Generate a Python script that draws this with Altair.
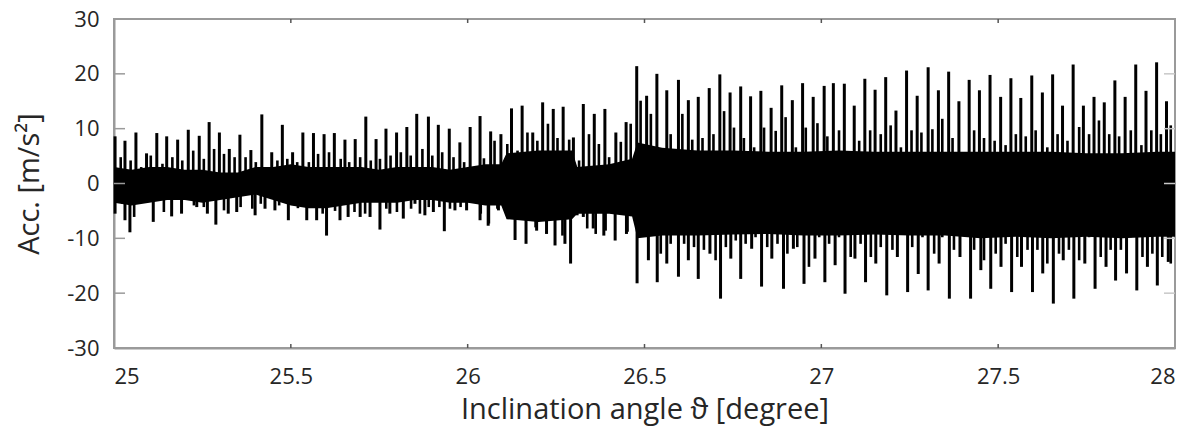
import altair as alt
import pandas as pd

# major positive spikes (angle [deg], acceleration [m/s^2])
pos_angle = [25.003, 25.031, 25.062, 25.092, 25.121, 25.149, 25.180, 25.210, 25.241, 25.269,
             25.298, 25.326, 25.356, 25.387, 25.418, 25.446, 25.476, 25.505, 25.534, 25.564,
             25.594, 25.623, 25.653, 25.682, 25.712, 25.741, 25.769, 25.799,
             25.828, 25.856, 25.889, 25.917, 25.948, 25.978, 26.007, 26.035, 26.065, 26.094,
             26.124, 26.154, 26.184, 26.212, 26.242, 26.270, 26.299, 26.327, 26.358, 26.388,
             26.419, 26.448, 26.478, 26.506, 26.535, 26.563, 26.596, 26.624, 26.652,
             26.683, 26.713, 26.742, 26.772, 26.800, 26.829, 26.858, 26.888, 26.918, 26.947,
             26.977, 27.008, 27.034, 27.065, 27.093, 27.123, 27.152, 27.182, 27.211, 27.241,
             27.271, 27.302, 27.331, 27.360, 27.389, 27.418, 27.447, 27.477, 27.507,
             27.536, 27.564, 27.595, 27.625, 27.654, 27.682, 27.712, 27.741, 27.771, 27.800,
             27.830, 27.859, 27.889, 27.918, 27.948, 27.976]
pos_acc = [8.6, 7.8, 9.3, 5.5, 9.2, 8.6, 8.0, 9.8, 8.7, 11.2,
           9.3, 6.3, 8.9, 6.1, 12.6, 5.7, 10.7, 5.7, 9.3, 9.2,
           9.0, 9.2, 8.0, 8.1, 12.2, 8.1, 10.0, 9.3,
           10.3, 12.7, 12.2, 10.7, 10.0, 7.5, 10.3, 12.3, 9.5, 9.0,
           13.7, 14.2, 9.3, 14.8, 13.6, 14.0, 8.4, 14.5, 12.7, 13.6,
           9.3, 11.2, 21.4, 16.0, 20.0, 17.0, 18.9, 15.2, 15.8,
           17.4, 19.9, 16.6, 17.7, 15.9, 16.9, 13.8, 17.9, 15.2, 18.3,
           15.8, 17.8, 18.3, 18.2, 14.2, 19.1, 17.1, 19.4, 13.3, 20.6,
           16.0, 21.2, 17.0, 20.4, 15.0, 18.9, 17.0, 19.8, 15.8,
           19.2, 15.6, 19.7, 16.6, 19.9, 14.2, 21.7, 14.2, 15.8, 14.8,
           18.8, 15.8, 21.7, 16.9, 22.1, 15.0]

# major negative spikes
neg_angle = [25.003, 25.031, 25.045, 25.111, 25.163, 25.191, 25.234, 25.264, 25.288, 25.323,
             25.347, 25.399, 25.427, 25.455, 25.493, 25.545, 25.573, 25.601, 25.639, 25.662,
             25.696, 25.724, 25.752, 25.780,
             25.818, 25.851, 25.879, 25.903, 25.934, 25.964, 25.997, 26.035, 26.058, 26.087,
             26.134, 26.165, 26.195, 26.223, 26.247, 26.275, 26.291, 26.327, 26.355, 26.385,
             26.417, 26.449, 26.479, 26.511, 26.536, 26.563, 26.596, 26.624, 26.652,
             26.685, 26.715, 26.744, 26.772, 26.803, 26.831, 26.860, 26.893, 26.921, 26.951,
             26.982, 27.010, 27.039, 27.067, 27.095, 27.125, 27.154, 27.185, 27.215, 27.244,
             27.274, 27.302, 27.333, 27.362,
             27.392, 27.422, 27.451, 27.479, 27.508, 27.538, 27.566, 27.597, 27.626, 27.656,
             27.684, 27.714, 27.745, 27.774, 27.805, 27.832, 27.863, 27.892, 27.922, 27.950,
             27.981]
neg_acc = [-5.5, -6.7, -8.9, -7.0, -6.0, -5.5, -4.3, -5.5, -7.5, -5.5,
           -5.2, -5.8, -4.6, -4.9, -6.7, -6.7, -6.7, -9.5, -6.7, -6.1,
           -6.1, -6.1, -8.4, -5.5,
           -6.4, -3.7, -5.8, -5.2, -8.7, -4.9, -4.9, -6.7, -7.7, -4.9,
           -10.3, -11.0, -8.6, -9.2, -11.3, -11.0, -14.6, -6.1, -8.2, -9.5,
           -10.4, -9.2, -18.2, -14.0, -18.0, -14.6, -17.0, -14.0, -17.4,
           -12.8, -21.0, -13.7, -17.4, -11.9, -18.8, -13.7, -19.2, -11.9, -18.3,
           -13.7, -18.0, -14.9, -20.1, -13.7, -18.0, -14.6, -20.4, -13.4, -19.8,
           -16.5, -19.5, -14.6, -21.0,
           -13.4, -21.0, -15.8, -19.2, -15.2, -19.8, -15.2, -19.8, -16.4, -21.9,
           -14.0, -21.0, -14.6, -19.2, -15.2, -17.7, -16.4, -19.5, -15.2, -18.6,
           -14.3]

# secondary (smaller) positive spikes
minor_pos_angle = [25.019, 25.047, 25.077, 25.104, 25.137, 25.165, 25.193, 25.224, 25.254, 25.283,
                   25.311, 25.341, 25.372, 25.401, 25.429, 25.462, 25.490,
                   25.518, 25.551, 25.577, 25.608, 25.641, 25.665, 25.696, 25.726, 25.752, 25.782,
                   25.811, 25.839, 25.872, 25.900, 25.928, 25.960, 25.990,
                   26.046, 26.076, 26.112, 26.141, 26.169, 26.197, 26.227, 26.254, 26.287, 26.315,
                   26.343, 26.371, 26.400, 26.433, 26.461, 26.489, 26.518,
                   26.574, 26.607, 26.635, 26.664, 26.695, 26.725, 26.753, 26.781, 26.810, 26.838,
                   26.871, 26.899, 26.928, 26.956, 26.989, 27.017,
                   27.050, 27.107, 27.138, 27.168, 27.196, 27.225, 27.255, 27.283, 27.314, 27.342,
                   27.371, 27.404, 27.432, 27.460, 27.490, 27.521,
                   27.550, 27.578, 27.606, 27.639, 27.668, 27.696, 27.729, 27.757, 27.785, 27.814,
                   27.842, 27.875, 27.905, 27.933, 27.960, 27.988]
minor_pos_acc = [4.8, 4.2, 3.0, 5.1, 3.6, 4.8, 4.2, 6.0, 4.5, 6.3,
                 5.4, 4.8, 4.8, 3.9, 2.4, 4.2, 4.5,
                 3.9, 3.9, 5.4, 5.7, 4.5, 3.9, 4.8, 4.2, 4.5, 5.1,
                 5.7, 5.1, 6.3, 5.1, 5.7, 4.8, 3.9,
                 4.6, 7.8, 7.2, 6.0, 9.3, 7.8, 10.9, 8.3, 8.0, 4.2,
                 9.0, 7.2, 4.8, 7.6, 10.9, 15.1, 12.7,
                 9.0, 12.7, 8.0, 8.3, 9.0, 13.2, 10.2, 8.3, 6.6, 10.2,
                 9.6, 12.1, 6.6, 10.2, 11.0, 8.6,
                 9.7, 7.8, 9.7, 9.0, 10.6, 6.6, 9.7, 9.3, 9.9, 11.8,
                 8.3, 5.5, 9.7, 8.3, 7.8, 7.0,
                 9.0, 8.6, 9.7, 6.6, 9.0, 7.8, 10.3, 9.0, 11.5, 9.0,
                 8.6, 9.7, 7.0, 9.7, 9.0, 10.6]

# secondary (smaller) negative spikes
minor_neg_angle = [25.024, 25.057, 25.085, 25.141, 25.226, 25.254, 25.311, 25.358, 25.391, 25.415,
                   25.467, 25.520, 25.590, 25.625, 25.680, 25.710, 25.770, 25.800, 25.840, 25.865,
                   25.890, 25.920, 25.950, 25.980,
                   26.037, 26.060, 26.084, 26.192, 26.268, 26.310, 26.338, 26.362, 26.390, 26.452,
                   26.546, 26.574, 26.612, 26.640, 26.668, 26.701, 26.730, 26.758, 26.786, 26.814,
                   26.847, 26.876, 26.904, 26.932, 26.965, 26.994, 27.022,
                   27.050, 27.083, 27.111, 27.140, 27.168, 27.201, 27.229, 27.257, 27.286, 27.319,
                   27.342, 27.375, 27.404, 27.432, 27.460, 27.493, 27.521,
                   27.554, 27.583, 27.611, 27.639, 27.672, 27.700, 27.729, 27.757, 27.790, 27.818,
                   27.847, 27.875, 27.908, 27.936, 27.964, 27.988]
minor_neg_acc = [-3.7, -6.1, -3.4, -5.2, -4.0, -4.3, -4.9, -4.3, -4.6, -3.7,
                 -4.0, -4.5, -5.5, -5.0, -5.2, -5.5, -4.6, -5.2, -4.6, -5.5,
                 -4.3, -4.3, -4.6, -4.3,
                 -5.5, -7.3, -4.6, -8.0, -9.5, -5.8, -8.2, -9.2, -8.6, -8.8,
                 -12.8, -11.0, -11.0, -11.6, -12.1, -14.0, -11.6, -10.4, -11.0, -9.8,
                 -11.6, -11.0, -12.8, -11.6, -15.2, -9.8, -11.0,
                 -9.8, -13.4, -11.0, -13.4, -11.6, -12.1, -8.6, -11.6, -9.8, -12.8,
                 -9.8, -12.1, -8.0, -12.1, -14.0, -12.8, -11.0,
                 -13.4, -12.1, -12.1, -14.6, -12.8, -12.1, -14.0, -9.8, -13.4, -12.1,
                 -12.1, -9.8, -13.4, -12.8, -13.4, -14.6]

# dense core of the signal (lower / upper envelope)
core_angle = [25.00, 25.05, 25.10, 25.15, 25.20, 25.25, 25.30, 25.35, 25.40, 25.45,
              25.50, 25.55, 25.60, 25.65, 25.70, 25.75, 25.80, 25.85, 25.90, 25.95,
              26.00, 26.05, 26.095, 26.11, 26.20, 26.295, 26.31, 26.40, 26.465, 26.48,
              26.55, 26.65, 26.75, 26.85, 26.95, 27.05, 27.15, 27.25, 27.35, 27.45,
              27.55, 27.65, 27.75, 27.85, 27.95, 28.00]
core_low = [-3.5, -4.0, -3.5, -3.0, -3.0, -3.5, -3.0, -2.5, -2.0, -3.0,
            -4.0, -4.5, -4.5, -4.0, -3.5, -3.5, -3.5, -3.0, -3.0, -3.5,
            -3.5, -4.0, -4.0, -6.5, -7.0, -6.5, -5.5, -5.5, -6.0, -10.0,
            -9.5, -9.5, -9.3, -9.2, -9.5, -9.5, -9.3, -9.5, -9.5, -10.0,
            -9.7, -10.0, -9.7, -10.0, -9.7, -9.7]
core_high = [3.0, 2.5, 3.0, 3.0, 2.5, 2.5, 2.0, 2.0, 3.0, 3.0,
             3.5, 3.0, 3.0, 3.0, 3.0, 2.5, 3.0, 3.0, 3.0, 2.5,
             3.0, 3.5, 3.5, 5.5, 6.0, 6.0, 3.0, 3.5, 4.5, 7.5,
             6.5, 6.0, 6.0, 5.8, 5.8, 6.0, 5.8, 5.8, 5.8, 5.8,
             5.8, 5.8, 5.5, 5.5, 5.8, 5.8]

x_tick_values = [25, 25.5, 26, 26.5, 27, 27.5, 28]
y_tick_values = [-30, -20, -10, 0, 10, 20, 30]
inner_y_ticks = [-20, -10, 0, 10, 20]
inner_x_ticks = [25.5, 26, 26.5, 27, 27.5]

W, H = 1061, 329
FONT = "Open Sans"
TXT = "#262626"
FRAME = "#9a9a9a"

pos_df = pd.DataFrame({"angle": pos_angle, "acc": pos_acc})
neg_df = pd.DataFrame({"angle": neg_angle, "acc": neg_acc})
mpos_df = pd.DataFrame({"angle": minor_pos_angle, "acc": minor_pos_acc})
mneg_df = pd.DataFrame({"angle": minor_neg_angle, "acc": minor_neg_acc})
core_df = pd.DataFrame({"angle": core_angle, "low": core_low, "high": core_high})
yt_df = pd.DataFrame({"v": inner_y_ticks})
xt_df = pd.DataFrame({"v": inner_x_ticks})

xs = alt.Scale(domain=[25, 28], nice=False, zero=False)
ys = alt.Scale(domain=[-30, 30], nice=False, zero=False)

x_axis = alt.Axis(values=x_tick_values, labelExpr="datum.value + ''", ticks=False,
                  grid=False, domainColor=FRAME, domainWidth=2, labelFontSize=22,
                  labelFont=FONT, labelColor=TXT, labelPadding=18, labelOverlap=False,
                  title="Inclination angle ϑ [degree]", titleFont=FONT, titleFontSize=29,
                  titleFontWeight="normal", titleColor=TXT, titlePadding=8)
y_axis = alt.Axis(values=y_tick_values, labelExpr="datum.value + ''", ticks=False,
                  grid=False, domainColor=FRAME, domainWidth=2, labelFontSize=22,
                  labelFont=FONT, labelColor=TXT, labelPadding=15, labelOverlap=False,
                  title="Acc. [m/s²]", titleFont=FONT, titleFontSize=29,
                  titleFontWeight="normal", titleColor=TXT, titlePadding=22)

core = alt.Chart(core_df).mark_area(color="black", opacity=1).encode(
    x=alt.X("angle:Q", scale=xs, axis=x_axis),
    y=alt.Y("low:Q", scale=ys, axis=y_axis),
    y2="high:Q",
)


def spikes(df, width):
    return alt.Chart(df).mark_rule(color="black", strokeWidth=width).encode(
        x=alt.X("angle:Q", scale=xs),
        y=alt.Y("acc:Q", scale=ys),
        y2=alt.datum(0),
    )


left_ticks = alt.Chart(yt_df).mark_rule(color=FRAME, strokeWidth=1.5).encode(
    y=alt.Y("v:Q", scale=ys), x=alt.value(0), x2=alt.value(11))
right_ticks = alt.Chart(yt_df).mark_rule(color="#c8c8c8", strokeWidth=1.5).encode(
    y=alt.Y("v:Q", scale=ys), x=alt.value(W - 11), x2=alt.value(W))
top_ticks = alt.Chart(xt_df).mark_rule(color="#555555", strokeWidth=1.5).encode(
    x=alt.X("v:Q", scale=xs), y=alt.value(0), y2=alt.value(4))
bottom_ticks = alt.Chart(xt_df).mark_rule(color="#555555", strokeWidth=1.5).encode(
    x=alt.X("v:Q", scale=xs), y=alt.value(H - 4), y2=alt.value(H))

chart = alt.layer(
    core,
    spikes(mpos_df, 2.6), spikes(mneg_df, 2.6),
    spikes(pos_df, 3), spikes(neg_df, 3),
    left_ticks, right_ticks, top_ticks, bottom_ticks,
).properties(
    width=W, height=H,
    padding={"left": 106, "top": 11, "right": 16, "bottom": 80},
    autosize=alt.AutoSizeParams(type="none"),
    background="white",
).configure_view(stroke=FRAME, strokeWidth=2)

chart.save("out.html", embed_options={"renderer": "svg", "actions": False})
